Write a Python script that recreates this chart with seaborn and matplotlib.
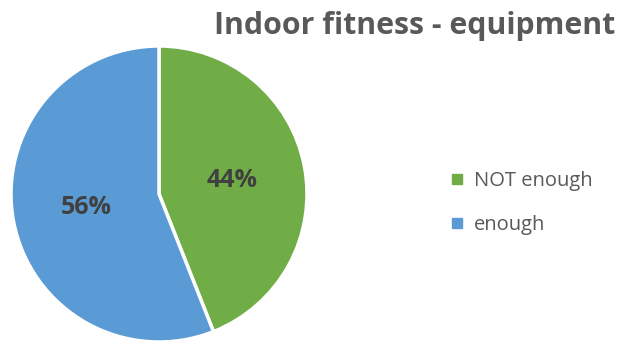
import matplotlib
matplotlib.use("Agg")
import matplotlib.pyplot as plt
import seaborn as sns
from matplotlib.lines import Line2D

# data
labels = ["NOT enough", "enough"]
shares = [44, 56]
colors = ["#70AD47", "#5B9BD5"]
title = "Indoor fitness - equipment"

sns.set_theme(style="white")
plt.rcParams['font.family'] = ['Open Sans', 'DejaVu Sans']

fig = plt.figure(figsize=(6.21, 3.42), dpi=100)
# pie centre ~ (159, 194) px, radius ~ 148 px
ax = fig.add_axes([11 / 621, 0 / 342, 296 / 621, 296 / 342])

wedges, texts, autotexts = ax.pie(
    shares, colors=colors, startangle=90, counterclock=False,
    autopct="%1.0f%%", pctdistance=0.5, radius=1.0,
    wedgeprops=dict(edgecolor="white", linewidth=2.5),
    textprops=dict(color="#404040", fontsize=18, fontweight="bold"),
)
ax.set_xlim(-1.0, 1.0)
ax.set_ylim(-1.0, 1.0)
ax.set_aspect("equal")
ax.axis("off")

fig.text(0.99, 0.925, title, ha="right", va="center",
         fontsize=21.8, fontweight="bold", color="#595959")

handles = [Line2D([0], [0], marker="s", linestyle="", markersize=6.5,
                  markerfacecolor=c, markeredgecolor=c) for c in colors]
leg = fig.legend(handles, labels, loc="center left",
                 bbox_to_anchor=(431 / 621, 1 - 203 / 342),
                 frameon=False, fontsize=14.5, handlelength=0.8,
                 handletextpad=0.45, labelspacing=1.15,
                 labelcolor="#595959")

fig.savefig("out.png", dpi=100)
